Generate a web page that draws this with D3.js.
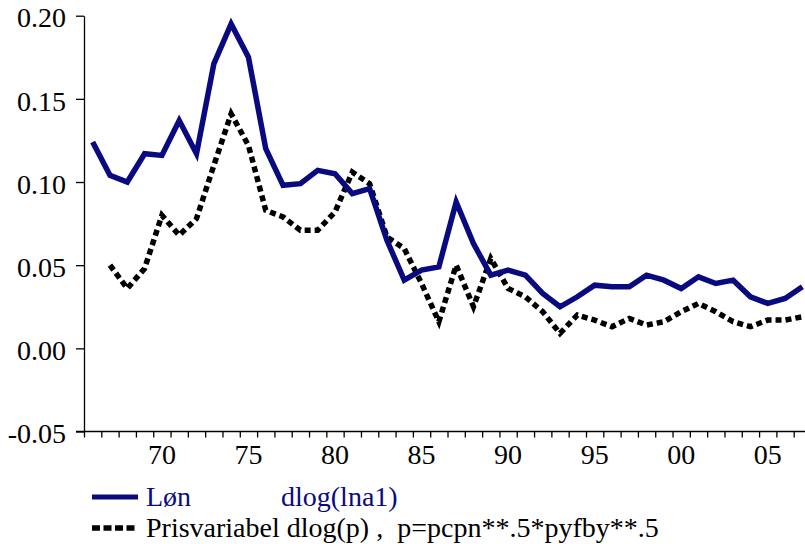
<!DOCTYPE html>
<html>
<head>
<meta charset="utf-8">
<script src="https://cdn.jsdelivr.net/npm/d3@7"></script>
<style>
  html, body { margin: 0; padding: 0; background: #fff; }
  svg { display: block; }
</style>
</head>
<body>
<svg id="chart" width="805" height="544"></svg>
<script>
// Annual growth rates, 1966-2007
const years = d3.range(1966, 2008);

// Løn: dlog(lna1)
const wageGrowth = [
  0.124, 0.104, 0.100, 0.117, 0.116, 0.137, 0.117, 0.171, 0.195, 0.175,
  0.120, 0.098, 0.099, 0.107, 0.105, 0.093, 0.096, 0.065, 0.041, 0.047,
  0.049, 0.088, 0.063, 0.044, 0.047, 0.044, 0.033, 0.025, 0.031, 0.038,
  0.037, 0.037, 0.044, 0.041, 0.036, 0.043, 0.039, 0.041, 0.031, 0.027,
  0.030, 0.037
];

// Prisvariabel: dlog(p), p = pcpn**.5 * pyfby**.5 (starts 1967)
const priceGrowth = [
  null, 0.050, 0.036, 0.048, 0.080, 0.068, 0.078, 0.110, 0.141, 0.122,
  0.083, 0.079, 0.071, 0.071, 0.082, 0.106, 0.099, 0.067, 0.060, 0.039,
  0.016, 0.050, 0.025, 0.054, 0.036, 0.031, 0.022, 0.009, 0.020, 0.017,
  0.013, 0.018, 0.014, 0.016, 0.022, 0.027, 0.022, 0.016, 0.013, 0.017,
  0.017, 0.019
];

const yTicks = [0.20, 0.15, 0.10, 0.05, 0.00, -0.05];
const xLabelYears = [1970, 1975, 1980, 1985, 1990, 1995, 2000, 2005];

const legendWage = ["Løn", "dlog(lna1)"];
const legendPrice = "Prisvariabel dlog(p) ,  p=pcpn**.5*pyfby**.5";

const W = 805, H = 544;
const plotLeft = 84, plotTop = 15.7, plotBottom = 431.5;
const yearStep = 17.31;
const fontStack = "Liberation Serif, Times New Roman, Times, Nimbus Roman, FreeSerif, DejaVu Serif, Noto Serif, serif";
const fontPx = 28;

const svg = d3.select("#chart");
svg.append("rect").attr("width", W).attr("height", H).attr("fill", "#fff");

const x = d3.scaleLinear()
  .domain([1966, 2008])
  .range([plotLeft, plotLeft + 42 * yearStep]);

const y = d3.scaleLinear()
  .domain([-0.05, 0.20])
  .range([plotBottom, plotTop]);

svg.append("defs").append("clipPath").attr("id", "plotClip")
  .append("rect").attr("x", plotLeft).attr("y", 0)
  .attr("width", W - plotLeft).attr("height", plotBottom);

// Y axis
const yAxis = d3.axisLeft(y)
  .tickValues(yTicks)
  .tickFormat(d => d3.format(".2f")(d).replace("−", "-"))
  .tickSize(8)
  .tickSizeOuter(0)
  .tickPadding(10);

const gy = svg.append("g").attr("transform", `translate(${plotLeft},0)`).call(yAxis)
  .attr("font-family", fontStack)
  .attr("font-size", fontPx);
gy.select(".domain").attr("stroke", "#000").attr("stroke-width", 1.3);
gy.selectAll(".tick line").attr("stroke", "#000").attr("stroke-width", 1.3);
gy.selectAll(".tick text")
  .attr("fill", "#000")
  .attr("dy", "0.40em");

// X axis: ticks on year boundaries, labels centred on years
const xAxis = d3.axisBottom(x)
  .tickValues(d3.range(1966, 2009))
  .tickFormat("")
  .tickSize(6)
  .tickSizeOuter(0);

const gx = svg.append("g").attr("transform", `translate(0,${plotBottom})`).call(xAxis)
  .attr("font-family", fontStack)
  .attr("font-size", fontPx);
gx.select(".domain").remove();
gx.selectAll(".tick line").attr("stroke", "#000").attr("stroke-width", 1.3);
gx.append("line")
  .attr("x1", plotLeft - 8).attr("x2", W)
  .attr("y1", 0).attr("y2", 0)
  .attr("stroke", "#000").attr("stroke-width", 1.3);

gx.selectAll(".year-label")
  .data(xLabelYears)
  .join("text")
  .attr("class", "year-label")
  .attr("x", d => x(d + 0.5))
  .attr("y", 32)
  .attr("text-anchor", "middle")
  .attr("fill", "#000")
  .text(d => String(d % 100).padStart(2, "0"));

// Series
const plot = svg.append("g").attr("clip-path", "url(#plotClip)");

const line = d3.line()
  .defined(d => d.v !== null)
  .x(d => x(d.year + 0.5))
  .y(d => y(d.v));

const wageData = years.map((yr, i) => ({ year: yr, v: wageGrowth[i] }));
const priceData = years.map((yr, i) => ({ year: yr, v: priceGrowth[i] }));

const navy = "#0a0a80";

plot.append("path")
  .datum(priceData)
  .attr("d", line)
  .attr("fill", "none")
  .attr("stroke", "#000")
  .attr("stroke-width", 5.5)
  .attr("stroke-dasharray", "6,4")
  .attr("stroke-linejoin", "miter");

plot.append("path")
  .datum(wageData)
  .attr("d", line)
  .attr("fill", "none")
  .attr("stroke", navy)
  .attr("stroke-width", 5.5)
  .attr("stroke-linejoin", "miter")
  .attr("stroke-miterlimit", 10);

// Legend
const legend = svg.append("g")
  .attr("font-family", fontStack)
  .attr("font-size", fontPx);
legend.append("line")
  .attr("x1", 92).attr("x2", 138).attr("y1", 497).attr("y2", 497)
  .attr("stroke", navy).attr("stroke-width", 5);
legend.append("text")
  .attr("x", 146).attr("y", 506)
  .attr("fill", navy)
  .text(legendWage[0]);
legend.append("text")
  .attr("x", 281).attr("y", 506)
  .attr("fill", navy)
  .text(legendWage[1]);

legend.append("line")
  .attr("x1", 92).attr("x2", 137).attr("y1", 528).attr("y2", 528)
  .attr("stroke", "#000").attr("stroke-width", 5.5)
  .attr("stroke-dasharray", "8,3.5");
legend.append("text")
  .attr("x", 146).attr("y", 537)
  .attr("fill", "#000")
  .attr("xml:space", "preserve")
  .style("white-space", "pre")
  .text(legendPrice);
</script>
</body>
</html>
